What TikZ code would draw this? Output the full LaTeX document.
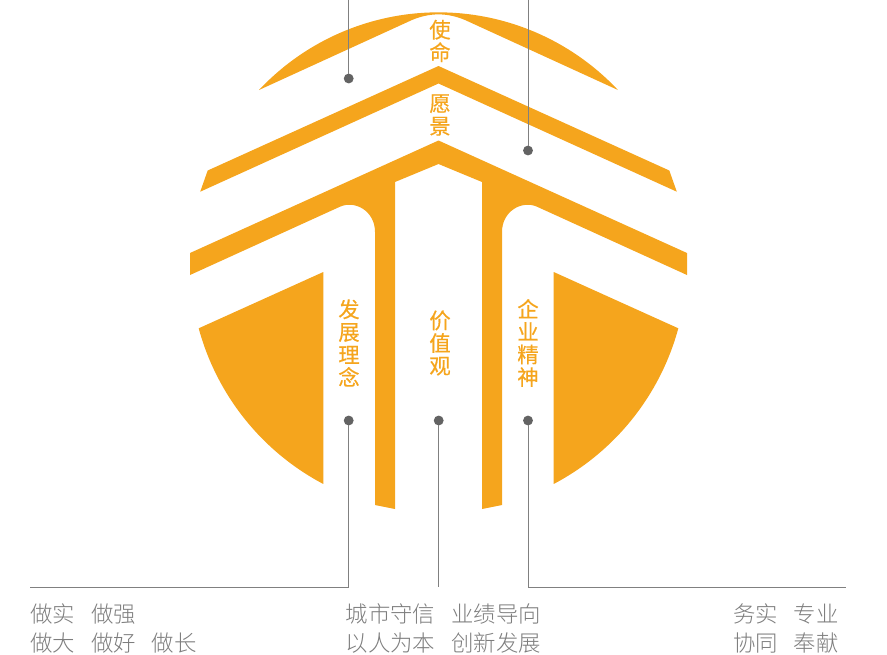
\documentclass[tikz,border=0pt]{standalone}
\usepackage{fontspec}
\setmainfont{Noto Sans CJK SC}
\newfontfamily\roofont[RawFeature={embolden=0.5}]{Noto Sans CJK SC}
\newfontfamily\blurbfont[UprightFont=* Light]{Noto Sans CJK SC}
\usepackage{tikz}
\definecolor{roofor}{RGB}{245,165,29}
\definecolor{dotgr}{RGB}{99,99,99}
\definecolor{linegr}{RGB}{128,128,128}
\definecolor{textgr}{RGB}{125,125,125}
\tikzset{
  roof/.style={fill=roofor,draw=none},
  pin/.style={circle,fill=dotgr,draw=none,minimum size=7.4pt,inner sep=0pt,outer sep=0pt},
  leader/.style={draw=linegr,line width=0.75pt},
  vlabel/.style={text=roofor,font=\roofont\fontsize{16pt}{17pt}\selectfont,align=center,inner sep=0pt},
  blurb/.style={text=textgr,font=\blurbfont\fontsize{16.8pt}{21.75pt}\selectfont,inner sep=0pt}
}
\begin{document}
\begin{tikzpicture}[x=0.75pt,y=0.75pt,yscale=-1,xscale=1]
\useasboundingbox (0,0) rectangle (887,654);
\fill [roof] (259,90) arc [start angle=223.2,end angle=316.8,radius=246.2] -- (465,20) .. controls (447,12.5) and (430,12.5) .. (412,20) -- cycle ;
\fill [roof] (438.5,66) -- (669.3,170.5) -- (676.8,191.7) -- (438.5,83.5) -- (200.2,191.7) -- (207.7,170.5) -- cycle ;
\fill [roof] (438.5,140.5) -- (687,253) -- (687,275) -- (537,206.7) .. controls (522,200) and (502,211) .. (502,232) -- (502,505) -- (482,509) -- (482,182) -- (438.5,164) -- (395,182) -- (395,509) -- (375,505) -- (375,232) .. controls (375,211) and (355,200) .. (340,206.7) -- (190,275) -- (190,253) -- cycle ;
\fill [roof] (323.3,272) -- (198.7,328.3) arc [start angle=164.83,end angle=117.83,radius=250] -- cycle ;
\fill [roof] (553.7,272) -- (678.3,328.3) arc [start angle=15.17,end angle=62.17,radius=250] -- cycle ;

\node [vlabel] (mission) at (440,41) {使\\命};
\node [vlabel] (vision) at (440,115) {愿\\景};
\node [vlabel] (idea) at (349,343) {发\\展\\理\\念};
\node [vlabel] (values) at (440,343) {价\\值\\观};
\node [vlabel] (spirit) at (528,343) {企\\业\\精\\神};

\node [pin] (pinA) at (348.7,78.5) {};
\node [pin] (pinB) at (528,150.5) {};
\node [pin] (pinC) at (348.7,420.5) {};
\node [pin] (pinD) at (438.7,420.5) {};
\node [pin] (pinE) at (528,420.5) {};
\coordinate (topA) at (348.7,0);
\coordinate (topB) at (528,0);
\coordinate (endC) at (30,587);
\coordinate (endD) at (438.7,587);
\coordinate (endE) at (846,587);

\draw [leader] (topA) -- (pinA);
\draw [leader] (topB) -- (pinB);
\draw [leader] (pinC) |- (endC);
\draw [leader] (pinD) -- (endD);
\draw [leader] (pinE) |- (endE);

\node [blurb,anchor=north west,align=left] (goalsL) at (30,603) {做实\hspace{12pt}做强\\做大\hspace{12pt}做好\hspace{12pt}做长};
\node [blurb,anchor=north west,align=left] (goalsM) at (345.5,603) {城市守信\hspace{12pt}业绩导向\\以人为本\hspace{12pt}创新发展};
\node [blurb,anchor=north east,align=right] (goalsR) at (839,603) {务实\hspace{12pt}专业\\协同\hspace{12pt}奉献};
\end{tikzpicture}
\end{document}
